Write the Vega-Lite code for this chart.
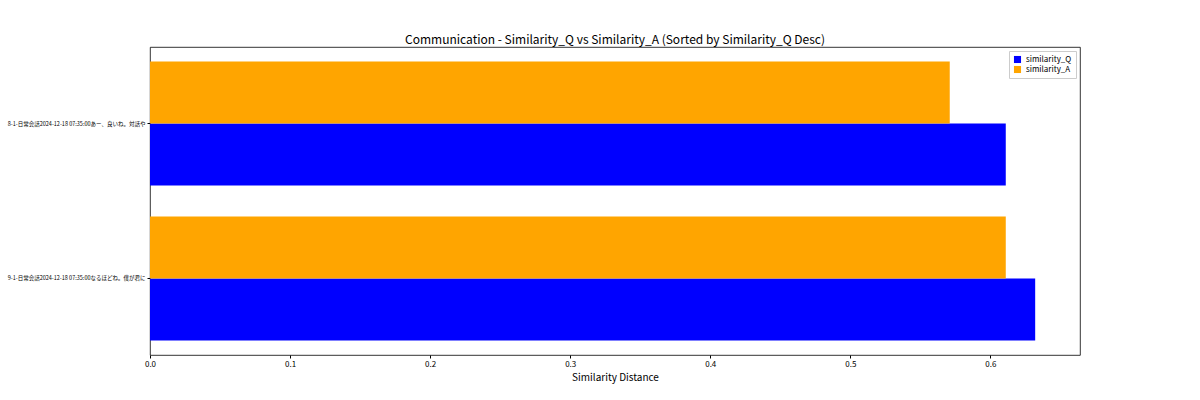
{
  "$schema": "https://vega.github.io/schema/vega-lite/v6.json",
  "autosize": {"type": "none"},
  "width": 930,
  "height": 308,
  "padding": {"left": 150, "top": 47, "right": 120, "bottom": 45},
  "background": "white",
  "config": {
    "font": "Noto Sans CJK JP",
    "view": {"stroke": "black", "strokeWidth": 0.8},
    "axis": {"grid": false, "domain": false, "tickColor": "black", "labelColor": "black", "titleColor": "black", "titleFontWeight": "normal"}
  },
  "title": {
    "text": "Communication - Similarity_Q vs Similarity_A (Sorted by Similarity_Q Desc)",
    "fontSize": 12,
    "fontWeight": "normal",
    "offset": 0,
    "color": "black"
  },
  "data": {
    "values": [
      {"question": "8-1-日常会話2024-12-18 07:35:00あー、良いね。対話や", "metric": "similarity_Q", "value": 0.611},
      {"question": "8-1-日常会話2024-12-18 07:35:00あー、良いね。対話や", "metric": "similarity_A", "value": 0.571},
      {"question": "9-1-日常会話2024-12-18 07:35:00なるほどね。僕が君に", "metric": "similarity_Q", "value": 0.632},
      {"question": "9-1-日常会話2024-12-18 07:35:00なるほどね。僕が君に", "metric": "similarity_A", "value": 0.611}
    ]
  },
  "mark": {"type": "bar"},
  "encoding": {
    "y": {
      "field": "question",
      "type": "nominal",
      "sort": ["8-1-日常会話2024-12-18 07:35:00あー、良いね。対話や", "9-1-日常会話2024-12-18 07:35:00なるほどね。僕が君に"],
      "scale": {"paddingInner": 0.2, "paddingOuter": 0.094},
      "axis": {"title": null, "labelFontSize": 5.5, "labelLimit": 200, "tickSize": 3, "labelPadding": 2}
    },
    "yOffset": {
      "field": "metric",
      "type": "nominal",
      "scale": {"domain": ["similarity_A", "similarity_Q"], "paddingInner": 0, "paddingOuter": 0}
    },
    "x": {
      "field": "value",
      "type": "quantitative",
      "scale": {"domain": [0, 0.664], "nice": false},
      "axis": {"title": "Similarity Distance", "values": [0, 0.1, 0.2, 0.3, 0.4, 0.5, 0.6], "format": ".1f", "labelFontSize": 8, "titleFontSize": 10, "tickSize": 3, "titlePadding": 4, "labelFlush": false}
    },
    "color": {
      "field": "metric",
      "type": "nominal",
      "scale": {"domain": ["similarity_Q", "similarity_A"], "range": ["#0000ff", "#ffa500"]},
      "legend": {
        "title": null,
        "orient": "top-right",
        "offset": 4,
        "symbolType": "square",
        "symbolSize": 50,
        "labelFontSize": 8,
        "fillColor": "white",
        "strokeColor": "#cccccc",
        "padding": 4,
        "rowPadding": 1
      }
    }
  }
}
